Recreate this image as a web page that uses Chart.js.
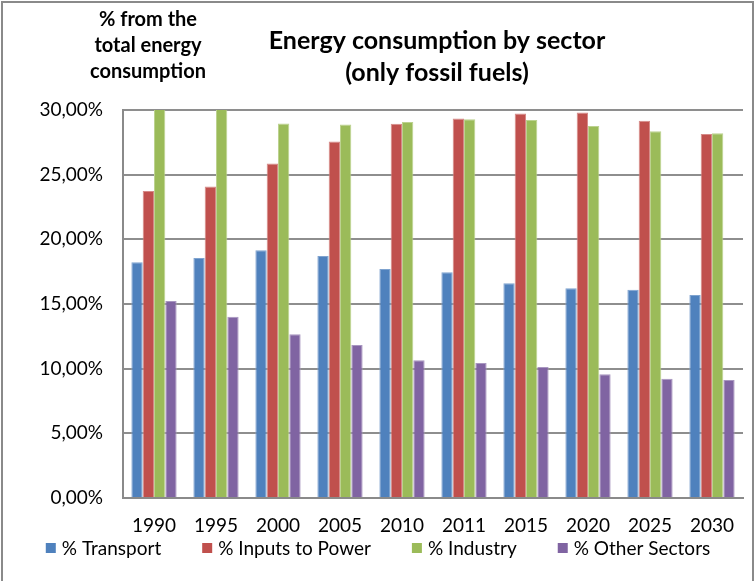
<!DOCTYPE html>
<html>
<head>
<meta charset="utf-8">
<script src="https://cdn.jsdelivr.net/npm/chart.js@4/dist/chart.umd.min.js"></script>
<style>
  html, body { margin: 0; padding: 0; background: #fff; }
  #wrap { width: 756px; height: 581px; position: relative; }
</style>
</head>
<body>
<div id="wrap"><canvas id="myChart" width="756" height="581"></canvas></div>
<script>
const years = ['1990', '1995', '2000', '2005', '2010', '2011', '2015', '2020', '2025', '2030'];
const transport = [18.23, 18.56, 19.15, 18.72, 17.71, 17.45, 16.60, 16.22, 16.11, 15.70];
const inputsToPower = [23.74, 24.08, 25.86, 27.56, 28.93, 29.34, 29.72, 29.80, 29.16, 28.15];
const industry = [31.5, 31.0, 28.95, 28.87, 29.08, 29.29, 29.23, 28.77, 28.36, 28.20];
const otherSectors = [15.24, 14.02, 12.66, 11.83, 10.65, 10.44, 10.13, 9.56, 9.23, 9.13];
const yTicks = [0, 5, 10, 15, 20, 25, 30];

const FONT = 'Lato, "Open Sans", sans-serif';

// titles, legend row and outer frame drawn straight on the canvas
const decorations = {
    id: 'decorations',
    afterDraw(chart) {
        const c = chart.ctx;
        c.save();
        c.strokeStyle = '#8a8a8a';
        c.lineWidth = 2;
        c.strokeRect(2, 2, 751, 620);

        c.fillStyle = '#000';
        c.textAlign = 'center';
        c.textBaseline = 'middle';
        c.font = 'bold 25px ' + FONT;
        c.fillText('Energy consumption by sector', 437, 41);
        c.fillText('(only fossil fuels)', 437, 73);

        c.font = 'bold 20px ' + FONT;
        c.fillText('% from the', 148, 20);
        c.fillText('total energy', 148, 46);
        c.fillText('consumption', 148, 72);

        // legend
        c.font = '19px ' + FONT;
        c.textAlign = 'left';
        const sets = chart.data.datasets;
        const box = 10, gap = 6, spacing = 41;
        const widths = sets.map(s => box + gap + c.measureText(s.label).width);
        const total = widths.reduce((a, b) => a + b, 0) + spacing * (sets.length - 1);
        let x = (756 - total) / 2;
        const y = 548;
        sets.forEach((s, i) => {
            c.fillStyle = s.backgroundColor;
            c.fillRect(x, y - 5, box, box);
            c.fillStyle = '#000';
            c.fillText(s.label, x + box + gap, y + 1);
            x += widths[i] + spacing;
        });
        c.restore();
    }
};

function makeSet(label, data, color, edge) {
    return {
        label: label,
        data: data,
        backgroundColor: color,
        borderColor: edge,
        borderWidth: 1,
        categoryPercentage: 0.73,
        barPercentage: 1.0
    };
}

const ctx = document.getElementById('myChart').getContext('2d');
new Chart(ctx, {
    type: 'bar',
    data: {
        labels: years,
        datasets: [
            makeSet('% Transport', transport, '#4F81BD', '#7fa3cf'),
            makeSet('% Inputs to Power', inputsToPower, '#C0504D', '#d68a88'),
            makeSet('% Industry', industry, '#9BBB59', '#bcd28f'),
            makeSet('% Other Sectors', otherSectors, '#8064A2', '#a896c0')
        ]
    },
    options: {
        responsive: false,
        animation: false,
        layout: { padding: { top: 110, left: 0, right: 13, bottom: 44 } },
        scales: {
            x: {
                afterFit(scale) { scale.height = 39; },
                grid: { display: false, drawTicks: false },
                border: { color: '#8a8a8a', width: 2 },
                ticks: { color: '#000', font: { family: FONT, size: 19 }, padding: 16, maxRotation: 0 }
            },
            y: {
                min: 0,
                max: 30,
                afterFit(scale) { scale.width = 123; },
                afterBuildTicks(scale) { scale.ticks = yTicks.map(v => ({ value: v })); },
                grid: { color: '#8e8e8e', lineWidth: 2, drawTicks: false },
                border: { color: '#8a8a8a', width: 2 },
                ticks: {
                    color: '#000',
                    font: { family: FONT, size: 19 },
                    padding: 20,
                    callback: v => v.toFixed(2).replace('.', ',') + '%'
                }
            }
        },
        plugins: {
            legend: { display: false },
            tooltip: { enabled: false }
        }
    },
    plugins: [decorations]
});
</script>
</body>
</html>
